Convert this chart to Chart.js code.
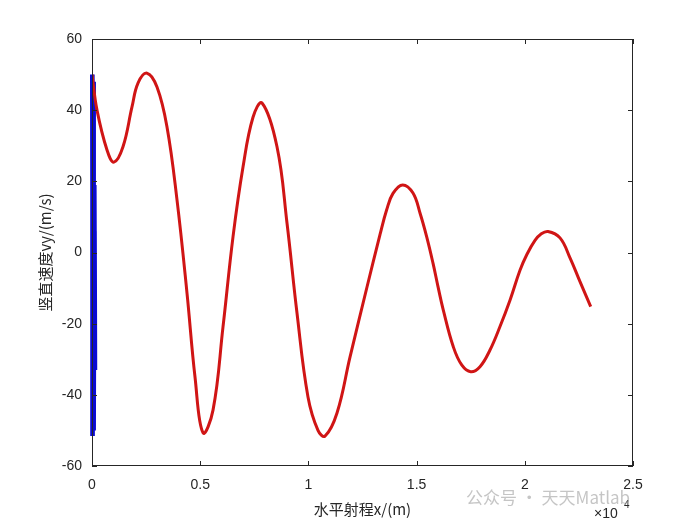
<!DOCTYPE html>
<html>
<head>
<meta charset="utf-8">
<script src="https://cdn.jsdelivr.net/npm/chart.js@4/dist/chart.umd.min.js"></script>
<style>
  html, body { margin: 0; padding: 0; background: #fff; }
  #wrap { width: 700px; height: 525px; }
</style>
</head>
<body>
<div id="wrap"><canvas id="chart" width="700" height="525"></canvas></div>
<script>
// red trajectory: horizontal range x (m) vs vertical speed vy (m/s)
const redX = [0, 231, 693, 1017, 1432, 1848, 2126, 2541, 3004, 3466, 3928, 4390, 4760, 5130,
  5592, 6054, 6516, 6978, 7440, 7856, 8549, 9011, 9473, 9981, 10443, 10767, 11322, 11922,
  12708, 13308, 13617, 13909, 14357, 14833, 15157, 15467, 15758, 15989, 16234, 16696,
  17084, 17500, 17929, 18392, 18854, 19316, 19778, 20101, 20471, 20750, 21071, 21627, 22089,
  22551, 23045];
const redY = [50, 40, 28.8, 25.4, 29.7, 40.9, 47.6, 50.4, 46.5, 35.3, 14.8, -11.4, -35, -50.7,
  -44.3, -20.9, 4.4, 24, 38, 42, 29.7, 8.3, -17, -40.6, -50, -51.6, -45.1, -29.4,
  -9.7, 5, 12, 16.6, 19, 16.7, 11.1, 4.4, -3, -9.6, -16.2, -26.5,
  -31.6, -33.5, -32.1, -27.4, -20.8, -13.4, -5, -0.5, 3.4, 5.2, 5.9, 4.1, -1.5,
  -8.2, -15.2];

// blue trajectory: dense oscillation close to x = 0
const blueX = [0, 30, 60, 90, 120, 150, 130, 100, 70, 40, 10];
const blueY = [50, -51, 48, -50, 19, -33, 6, -15, 26, -51, 40];

const xTicks = [0, 5000, 10000, 15000, 20000, 25000];
const yTicks = [-60, -40, -20, 0, 20, 40, 60];

const xTitle = "水平射程x/(m)";
const yTitle = "竖直速度vy/(m/s)";
const watermark = "公众号 · 天天Matlab";

const AXIS = "#262626";
const TICK_FONT = "14px 'Liberation Sans', Arial, sans-serif";
const CJK_FONT = "15px 'Noto Sans CJK SC', 'Liberation Sans', sans-serif";

const toPoints = (xs, ys) => xs.map((x, i) => ({ x: x, y: ys[i] }));

// MATLAB style box with inward ticks, titles and exponent label
const matlabAxes = {
  id: "matlabAxes",
  afterDraw(chart) {
    const ctx = chart.ctx;
    const a = chart.chartArea;
    const xs = chart.scales.x;
    const ys = chart.scales.y;
    ctx.save();
    ctx.strokeStyle = AXIS;
    ctx.lineWidth = 1;
    ctx.strokeRect(a.left + 0.5, a.top + 0.5, a.right - a.left - 1, a.bottom - a.top - 1);
    ctx.beginPath();
    xTicks.forEach((v) => {
      const px = Math.round(xs.getPixelForValue(v)) + 0.5;
      ctx.moveTo(px, a.bottom); ctx.lineTo(px, a.bottom - 5);
      ctx.moveTo(px, a.top); ctx.lineTo(px, a.top + 5);
    });
    yTicks.forEach((v) => {
      const py = Math.round(ys.getPixelForValue(v)) + 0.5;
      ctx.moveTo(a.left, py); ctx.lineTo(a.left + 5, py);
      ctx.moveTo(a.right, py); ctx.lineTo(a.right - 5, py);
    });
    ctx.stroke();

    ctx.fillStyle = AXIS;
    ctx.font = CJK_FONT;
    ctx.textAlign = "center";
    ctx.textBaseline = "middle";
    ctx.fillText(xTitle, (a.left + a.right) / 2, 509);
    ctx.save();
    ctx.translate(45, (a.top + a.bottom) / 2);
    ctx.rotate(-Math.PI / 2);
    ctx.fillText(yTitle, 0, 0);
    ctx.restore();

    // exponent label
    ctx.font = TICK_FONT;
    ctx.textAlign = "left";
    ctx.fillText("×10", 594, 514);
    ctx.font = "10px 'Liberation Sans', Arial, sans-serif";
    ctx.fillText("4", 624, 505);

    // watermark
    ctx.font = "17px 'Noto Sans CJK SC', sans-serif";
    ctx.fillStyle = "rgba(150,150,150,0.55)";
    ctx.fillText(watermark, 466, 498);
    ctx.restore();
  }
};

new Chart(document.getElementById("chart"), {
  type: "scatter",
  data: {
    datasets: [
      {
        data: toPoints(redX, redY),
        showLine: true,
        borderColor: "#d01515",
        borderWidth: 3,
        pointRadius: 0,
        tension: 0.4
      },
      {
        data: toPoints(blueX, blueY),
        showLine: true,
        borderColor: "#0a0ad2",
        borderWidth: 4,
        pointRadius: 0,
        tension: 0,
        clip: false
      }
    ]
  },
  options: {
    responsive: false,
    animation: false,
    layout: { padding: { left: 0, top: 39, right: 67, bottom: 0 } },
    plugins: { legend: { display: false }, tooltip: { enabled: false } },
    scales: {
      x: {
        type: "linear",
        min: 0,
        max: 25000,
        afterFit: (s) => { s.height = 59; },
        afterBuildTicks: (s) => { s.ticks = xTicks.map((v) => ({ value: v })); },
        grid: { display: false, drawTicks: false },
        border: { display: false },
        ticks: {
          padding: 11,
          color: AXIS,
          font: { family: "'Liberation Sans', Arial, sans-serif", size: 14 },
          maxRotation: 0,
          callback: (v) => String(v / 10000)
        }
      },
      y: {
        type: "linear",
        min: -60,
        max: 60,
        afterFit: (s) => { s.width = 92; },
        afterBuildTicks: (s) => { s.ticks = yTicks.map((v) => ({ value: v })); },
        grid: { display: false, drawTicks: false },
        border: { display: false },
        ticks: {
          padding: 10,
          color: AXIS,
          font: { family: "'Liberation Sans', Arial, sans-serif", size: 14 }
        }
      }
    }
  },
  plugins: [matlabAxes]
});
</script>
</body>
</html>
